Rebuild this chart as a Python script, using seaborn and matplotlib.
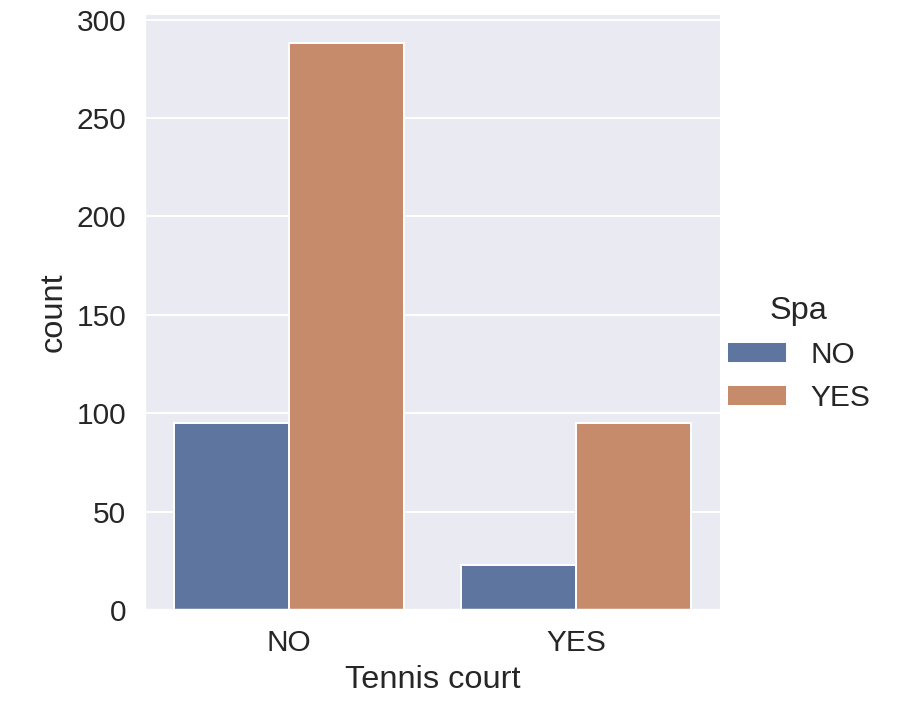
import numpy as np
import pandas as pd
import matplotlib
matplotlib.use('Agg')
import matplotlib.pyplot as plt
import seaborn as sns

# counts
tennis_levels = ['NO', 'YES']
spa_levels = ['NO', 'YES']
count_tennis_no = [95, 288]   # Spa NO, Spa YES
count_tennis_yes = [23, 95]

# rebuild raw rows so countplot does the counting
rows = []
for tennis, counts in zip(tennis_levels, [count_tennis_no, count_tennis_yes]):
    for spa, n in zip(spa_levels, counts):
        rows += [(tennis, spa)] * n
df = pd.DataFrame(rows, columns=['Tennis court', 'Spa'])

sns.set_theme(font_scale=1.38)
plt.rcParams['font.family'] = ['Liberation Sans', 'DejaVu Sans']
dpi = 141.6
g = sns.catplot(data=df, x='Tennis court', hue='Spa', kind='count',
                order=tennis_levels, hue_order=spa_levels, height=5,
                saturation=0.65)
g.figure.set_size_inches(900 / dpi, 708 / dpi)
g.figure.subplots_adjust(left=0.161, right=0.8, top=0.979, bottom=0.138)
sns.move_legend(g, 'center left', bbox_to_anchor=(0.778, 0.5))
g.figure.savefig('out.png', dpi=dpi)
